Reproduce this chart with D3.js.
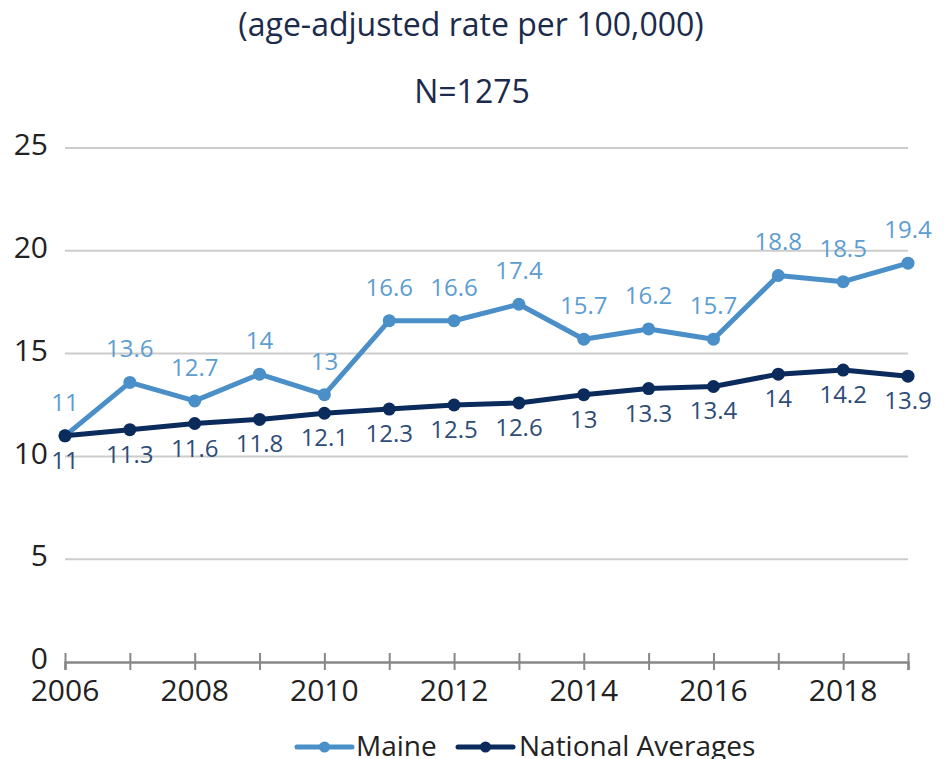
<!DOCTYPE html>
<html><head><meta charset="utf-8">
<script src="https://cdn.jsdelivr.net/npm/d3@7"></script>
<style>body{margin:0;background:#fff}svg{display:block;font-family:"Open Sans",sans-serif}</style>
</head><body>
<svg id="c" width="948" height="759"></svg>
<script>
const years = [2006,2007,2008,2009,2010,2011,2012,2013,2014,2015,2016,2017,2018,2019];
const maine = [11,13.6,12.7,14,13,16.6,16.6,17.4,15.7,16.2,15.7,18.8,18.5,19.4];
const national = [11,11.3,11.6,11.8,12.1,12.3,12.5,12.6,13,13.3,13.4,14,14.2,13.9];
const yTicks = [0,5,10,15,20,25];
const xLabels = [2006,2008,2010,2012,2014,2016,2018];
const titleText = "(age-adjusted rate per 100,000)";
const subtitleText = "N=1275";
const seriesNames = ["Maine","National Averages"];

const svg = d3.select("#c");
const x = d3.scaleLinear().domain([2006,2019]).range([65,908]);
const y = d3.scaleLinear().domain([0,25]).range([662,148]);

svg.append("text").attr("x",471).attr("y",36).attr("text-anchor","middle")
  .attr("font-size",32).attr("fill","#1c2b4b").text(titleText);
svg.append("text").attr("x",472).attr("y",103).attr("text-anchor","middle")
  .attr("font-size",32).attr("fill","#1c2b4b").text(subtitleText);

// gridlines
svg.append("g").selectAll("line").data(yTicks.filter(d=>d>0)).join("line")
  .attr("x1",65).attr("x2",908).attr("y1",d=>y(d)).attr("y2",d=>y(d))
  .attr("stroke","#cccccc").attr("stroke-width",2);

// y labels
svg.append("g").selectAll("text").data(yTicks).join("text")
  .attr("x",48).attr("y",d=>y(d)).attr("dy","0.24em").attr("text-anchor","end")
  .attr("font-size",30).attr("fill","#222").text(d=>d);

// x axis
const xa = svg.append("g").attr("transform","translate(0,662)")
  .call(d3.axisBottom(x).tickValues(years).tickSize(8).tickFormat(""));
xa.select(".domain").attr("stroke","#888").attr("stroke-width",2.5);
xa.selectAll(".tick line").attr("stroke","#888").attr("stroke-width",2).attr("y1",-9).attr("y2",8);
svg.append("g").selectAll("text").data(xLabels).join("text")
  .attr("x",d=>x(d)).attr("y",701).attr("text-anchor","middle")
  .attr("font-size",30).attr("fill","#222").text(d=>d);

const line = d3.line().x((d,i)=>x(years[i])).y(d=>y(d));
const cfg = [
  {data:maine, color:"#4a8fc8", label:"#5c9dd2", dy:-25},
  {data:national, color:"#0b2b5c", label:"#2d4c78", dy:33}
];
cfg.forEach(s=>{
  svg.append("path").datum(s.data).attr("d",line).attr("fill","none")
    .attr("stroke",s.color).attr("stroke-width",5).attr("stroke-linejoin","round");
  svg.append("g").selectAll("circle").data(s.data).join("circle")
    .attr("cx",(d,i)=>x(years[i])).attr("cy",d=>y(d)).attr("r",6.5).attr("fill",s.color);
});
cfg.forEach(s=>{
  svg.append("g").selectAll("text").data(s.data).join("text")
    .attr("x",(d,i)=>x(years[i])).attr("y",d=>y(d)+s.dy).attr("text-anchor","middle")
    .attr("font-size",24).attr("fill",s.label).text(d=>d);
});

// legend
const leg = [{x0:297,x1:352,tx:356,color:"#4a8fc8",name:seriesNames[0]},
             {x0:458,x1:513,tx:519,color:"#0b2b5c",name:seriesNames[1]}];
leg.forEach(l=>{
  svg.append("line").attr("x1",l.x0).attr("x2",l.x1).attr("y1",747).attr("y2",747)
    .attr("stroke",l.color).attr("stroke-width",5).attr("stroke-linecap","round");
  svg.append("circle").attr("cx",(l.x0+l.x1)/2).attr("cy",747).attr("r",5.5).attr("fill",l.color);
  svg.append("text").attr("x",l.tx).attr("y",756).attr("font-size",28).attr("fill","#222").text(l.name);
});
</script>
</body></html>
